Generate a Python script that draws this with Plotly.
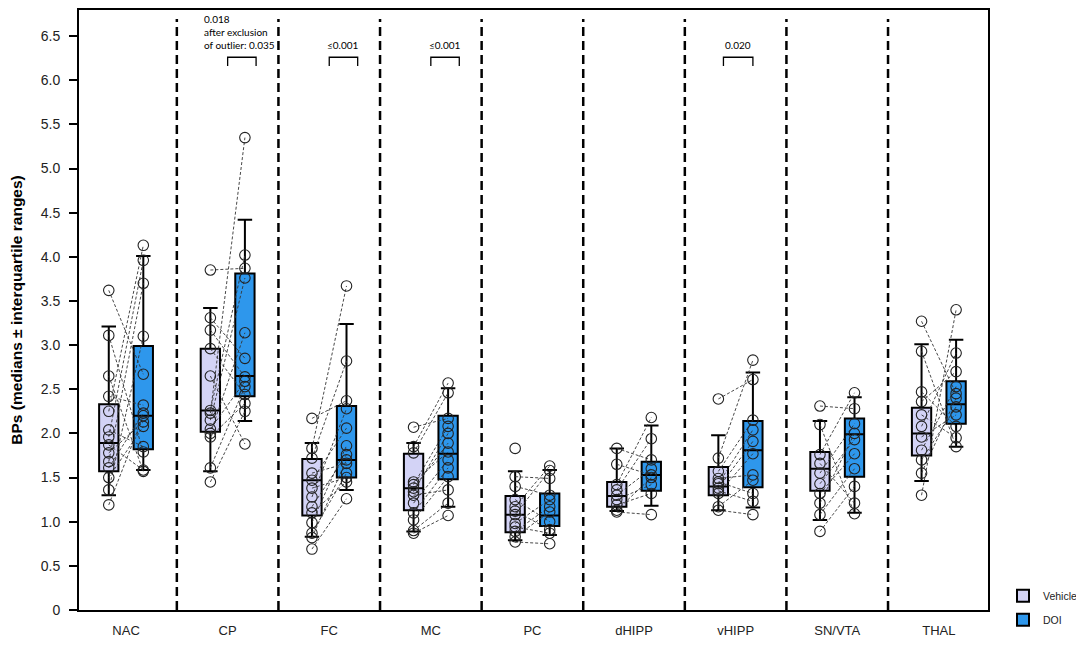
import plotly.graph_objects as go

# ---------------- data ----------------
regions = ["NAC", "CP", "FC", "MC", "PC", "dHIPP", "vHIPP", "SN/VTA", "THAL"]

# box statistics (median, quartiles, whisker ends)
veh_median = [1.89, 2.26, 1.47, 1.38, 1.08, 1.29, 1.40, 1.60, 2.00]
veh_q1     = [1.57, 2.02, 1.07, 1.13, 0.88, 1.17, 1.30, 1.35, 1.75]
veh_q3     = [2.33, 2.96, 1.71, 1.77, 1.29, 1.45, 1.62, 1.79, 2.29]
veh_low    = [1.30, 1.57, 0.83, 0.89, 0.79, 1.12, 1.13, 1.02, 1.46]
veh_high   = [3.21, 3.42, 1.89, 1.89, 1.57, 1.83, 1.98, 2.14, 3.01]

doi_median = [2.20, 2.65, 1.70, 1.77, 1.07, 1.53, 1.81, 1.99, 2.33]
doi_q1     = [1.82, 2.42, 1.50, 1.48, 0.95, 1.35, 1.39, 1.51, 2.11]
doi_q3     = [2.99, 3.81, 2.31, 2.20, 1.32, 1.68, 2.14, 2.17, 2.59]
doi_low    = [1.585, 2.14, 1.36, 1.17, 0.85, 1.18, 1.16, 1.10, 1.85]
doi_high   = [4.01, 4.42, 3.24, 2.51, 1.585, 2.09, 2.69, 2.41, 3.06]

# individual animals (paired by position: vehicle[k] <-> DOI[k])
nac_veh = [3.62, 3.11, 2.65, 2.42, 2.25, 2.04, 1.96, 1.87, 1.78, 1.68, 1.61, 1.50, 1.36, 1.19]
nac_doi = [2.67, 1.79, 1.57, 2.32, 4.13, 1.85, 3.96, 1.585, 2.13, 3.70, 2.23, 2.08, 3.10, 2.20]
cp_veh = [3.85, 3.31, 3.17, 2.96, 2.65, 2.26, 2.23, 2.15, 2.05, 2.00, 1.96, 1.61, 1.45]
cp_doi = [3.87, 2.85, 2.64, 2.44, 1.88, 4.02, 5.35, 3.76, 2.59, 3.14, 2.34, 2.53, 2.25]
fc_veh = [2.17, 1.83, 1.72, 1.55, 1.47, 1.38, 1.28, 1.17, 1.10, 0.99, 0.87, 0.82, 0.69]
fc_doi = [2.37, 3.67, 2.82, 1.66, 2.06, 1.50, 2.28, 1.76, 1.45, 1.86, 1.55, 1.70, 1.26]
mc_veh = [2.07, 1.85, 1.78, 1.45, 1.42, 1.38, 1.34, 1.30, 1.21, 1.10, 1.02, 0.90, 0.87]
mc_doi = [2.17, 2.57, 2.46, 1.79, 2.08, 1.89, 2.00, 1.36, 1.70, 1.61, 1.51, 1.21, 1.07]
pc_veh = [1.83, 1.51, 1.40, 1.25, 1.17, 1.12, 1.08, 0.98, 0.94, 0.89, 0.83, 0.77]
pc_doi = [None, 1.49, 1.30, 1.00, 1.63, 0.91, 1.58, 1.25, 0.87, 1.17, 1.11, 0.75]
dh_veh = [1.83, 1.65, 1.42, 1.36, 1.30, 1.25, 1.19, 1.13, 1.11]
dh_doi = [1.70, 1.53, 2.18, 1.94, 1.60, 1.42, 1.32, 1.50, 1.08]
vh_veh = [2.39, 1.72, 1.57, 1.49, 1.45, 1.43, 1.38, 1.35, 1.32, 1.17, 1.13]
vh_doi = [2.61, 2.83, 2.15, 1.53, 1.32, 2.04, 1.91, 1.23, 1.77, 1.47, 1.08]
sn_veh = [2.31, 2.10, 1.76, 1.66, 1.55, 1.43, 1.32, 1.21, 1.08, 0.89]
sn_doi = [2.28, 1.09, 2.46, 1.21, 2.11, 1.93, 1.77, 2.00, 1.60, 1.40]
th_veh = [3.27, 2.93, 2.47, 2.36, 2.21, 2.08, 1.96, 1.81, 1.70, 1.55, 1.30]
th_doi = [2.45, 1.85, 2.08, 2.70, 1.95, 2.91, 2.21, 2.53, 2.30, 2.40, 3.40]

vehicle_points = [nac_veh, cp_veh, fc_veh, mc_veh, pc_veh, dh_veh, vh_veh, sn_veh, th_veh]
doi_points = [nac_doi, cp_doi, fc_doi, mc_doi, pc_doi, dh_doi, vh_doi, sn_doi, th_doi]

y_tick_vals = [0, 0.5, 1.0, 1.5, 2.0, 2.5, 3.0, 3.5, 4.0, 4.5, 5.0, 5.5, 6.0, 6.5]
y_tick_text = ["0", "0.5", "1.0", "1.5", "2.0", "2.5", "3.0", "3.5", "4.0", "4.5", "5.0", "5.5", "6.0", "6.5"]

# significance annotations: (region index, label)
sig_regions = [1, 2, 3, 6]
sig_labels = ["0.018<br>after exclusion<br>of outlier: 0.035", "≤0.001", "≤0.001", "0.020"]

# ---------------- styling / layout ----------------
OFF = 0.17
BOXW = 0.19
VEH_FILL = "#D3D3F6"
DOI_FILL = "#2E97EC"

fig = go.Figure()

xs = list(range(len(regions)))

# connecting dashed lines
lx, ly = [], []
for i in xs:
    for v, d in zip(vehicle_points[i], doi_points[i]):
        if v is None or d is None:
            continue
        lx += [i - OFF, i + OFF, None]
        ly += [v, d, None]
fig.add_trace(go.Scatter(x=lx, y=ly, mode="lines", showlegend=False, hoverinfo="skip",
                         line=dict(color="#333333", width=0.9, dash="3px,2px")))

fig.add_trace(go.Box(
    name="Vehicle", x=[i - OFF for i in xs],
    q1=veh_q1, median=veh_median, q3=veh_q3, lowerfence=veh_low, upperfence=veh_high,
    width=BOXW, whiskerwidth=0.75, boxpoints=False,
    fillcolor=VEH_FILL, line=dict(color="black", width=2), legendgroup="a"))
fig.add_trace(go.Box(
    name="DOI", x=[i + OFF for i in xs],
    q1=doi_q1, median=doi_median, q3=doi_q3, lowerfence=doi_low, upperfence=doi_high,
    width=BOXW, whiskerwidth=0.75, boxpoints=False,
    fillcolor=DOI_FILL, line=dict(color="black", width=2), legendgroup="b"))

# individual points
px, py = [], []
for i in xs:
    for v in vehicle_points[i]:
        if v is not None:
            px.append(i - OFF); py.append(v)
    for d in doi_points[i]:
        if d is not None:
            px.append(i + OFF); py.append(d)
fig.add_trace(go.Scatter(x=px, y=py, mode="markers", showlegend=False, hoverinfo="skip",
                         marker=dict(symbol="circle-open", size=10.5, color="#222222",
                                     line=dict(width=1.1, color="#222222"))))

# vertical dashed separators
for i in xs[:-1]:
    fig.add_shape(type="line", xref="x", yref="paper", x0=i + 0.5, x1=i + 0.5, y0=0, y1=0.985,
                  line=dict(color="black", width=2.5, dash="9px,5px"))

# significance brackets
for k, (i, lab) in enumerate(zip(sig_regions, sig_labels)):
    if k == 3:
        a, b = i - 0.12, i + 0.17
    else:
        a, b = i + 0.0, i + 0.28
    ytop, yleg = 6.26, 6.16
    fig.add_shape(type="path", xref="x", yref="y",
                  path=f"M {a} {yleg} L {a} {ytop} L {b} {ytop} L {b} {yleg}",
                  line=dict(color="black", width=1.3))
    if k == 0:
        fig.add_annotation(x=i - 0.25, y=6.31, xref="x", yref="y", text=lab, showarrow=False,
                           xanchor="left", yanchor="bottom", align="left",
                           font=dict(family="Lato, Open Sans, sans-serif", size=10, color="black"))
    else:
        fig.add_annotation(x=(a + b) / 2, y=6.31, xref="x", yref="y", text=lab, showarrow=False,
                           xanchor="center", yanchor="bottom",
                           font=dict(family="Lato, Open Sans, sans-serif", size=10, color="black"))

# page body adds an 8 px offset, so the figure is 8 px smaller and margins shifted
fig.update_layout(
    width=1076, height=640,
    margin=dict(l=71, r=96, t=2, b=38, autoexpand=False),
    paper_bgcolor="white", plot_bgcolor="white",
    font=dict(family="Liberation Sans, Arial, sans-serif", color="#222222"),
    showlegend=True,
    legend=dict(x=1.0165, y=0.048, xanchor="left", yanchor="top",
                font=dict(size=10.5, color="#222222"), tracegroupgap=5,
                traceorder="grouped", bgcolor="rgba(0,0,0,0)"),
    xaxis=dict(range=[-0.463, 8.484], tickmode="array", tickvals=xs, ticktext=regions,
               showgrid=False, zeroline=False, showline=True, linecolor="black", linewidth=2,
               mirror=True, ticks="", ticklabelstandoff=7, automargin=False,
               tickfont=dict(size=13, color="#222222")),
    yaxis=dict(range=[0, 6.795], tickmode="array", tickvals=y_tick_vals, ticktext=y_tick_text,
               showgrid=False, zeroline=False, showline=True, linecolor="black", linewidth=2,
               mirror=True, ticks="outside", ticklen=8, tickwidth=1.5, tickcolor="black",
               ticklabelstandoff=6, tickfont=dict(size=14, color="#222222"), automargin=False,
               title=dict(text="BPs (medians ± interquartile ranges)", standoff=16,
                          font=dict(size=15.5, weight=700, color="black"))),
)

fig.write_html("out.html")
